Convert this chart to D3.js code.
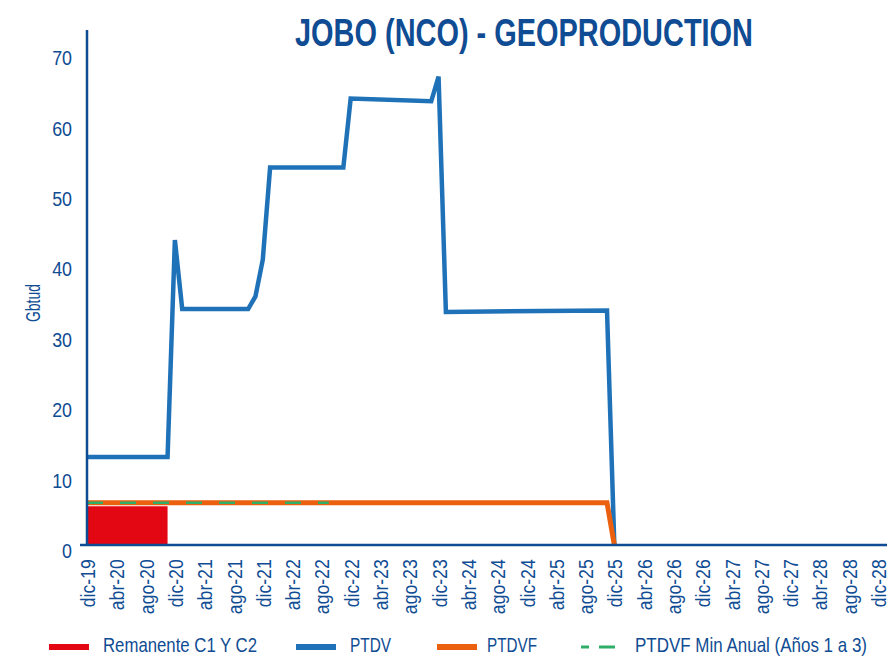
<!DOCTYPE html>
<html>
<head>
<meta charset="utf-8">
<script src="https://cdn.jsdelivr.net/npm/d3@7"></script>
<style>
  body { margin: 0; background: #fff; }
  svg { display: block; }
  text { font-family: "Liberation Sans", Arial, sans-serif; fill: #0f4c93; }
</style>
</head>
<body>
<svg id="chart" width="887" height="656"></svg>
<script>
// x tick labels, one every 4 months starting dic-19 (month index 0)
const tickLabels = ["dic-19","abr-20","ago-20","dic-20","abr-21","ago-21","dic-21","abr-22","ago-22",
  "dic-22","abr-23","ago-23","dic-23","abr-24","ago-24","dic-24","abr-25","ago-25","dic-25",
  "abr-26","ago-26","dic-26","abr-27","ago-27","dic-27","abr-28","ago-28","dic-28"]
const yTicks = [0,10,20,30,40,50,60,70]

// PTDV (month index from dic-19, Gbtud)
const ptdvMonths = [0,11,12,13,22,23,24,25,35,36,47,48,49,71,72]
const ptdvValues = [12.5,12.5,43.3,33.5,33.5,35.3,40.5,53.6,53.6,63.4,63.0,66.5,33.1,33.3,0]
// PTDVF
const ptdvfMonths = [0,71,72]
const ptdvfValues = [6.0,6.0,0]
// PTDVF min anual (años 1 a 3)
const minMonths = [0,33]
const minValues = [6.0,6.0]
// Remanente C1 y C2
const remMonths = [0,11]
const remValues = [5.5,5.5]

const svg=d3.select("#chart")
const navy="#0f4c93"

let x=d3.scaleLinear().domain([0,108]).range([87,878])
let y=d3.scaleLinear().domain([0,70]).range([545,52])

const pts=(ms,vs)=>ms.map((m,i)=>[m,vs[i]])
const line=d3.line().x(d=>x(d[0])).y(d=>y(d[1]))

// red area
svg.append("path")
    .datum(pts(remMonths,remValues))
    .attr("fill","#e30613")
    .attr("d",d3.area().x(d=>x(d[0])).y0(y(0)).y1(d=>y(d[1])))

svg.append("path")
    .datum(pts(ptdvMonths,ptdvValues))
    .attr("fill","none")
    .attr("stroke","#1f72b8")
    .attr("stroke-width",4.5)
    .attr("d",line)

svg.append("path")
    .datum(pts(ptdvfMonths,ptdvfValues))
    .attr("fill","none")
    .attr("stroke","#ea600f")
    .attr("stroke-width",5)
    .attr("d",line)

svg.append("path")
    .datum(pts(minMonths,minValues))
    .attr("fill","none")
    .attr("stroke","#2fae68")
    .attr("stroke-width",2.5)
    .attr("stroke-dasharray","16,17")
    .attr("d",line)

// y axis
const yAxis=svg.append("g")
    .attr("transform","translate(87,0)")
    .call(d3.axisLeft(y).tickValues(yTicks).tickSize(0).tickPadding(15))
yAxis.select(".domain").remove()
yAxis.selectAll("text")
    .attr("x",0)
    .attr("dy","0.6em")
    .attr("transform","translate(-15,0) scale(0.85,1)")
    .style("font-size","21px")
    .attr("fill",navy)
svg.append("line")
    .attr("x1",87).attr("x2",87)
    .attr("y1",30).attr("y2",y(0))
    .attr("stroke",navy).attr("stroke-width",2.5)

// x axis
const xAxis=svg.append("g")
    .attr("transform",`translate(0,${y(0)})`)
    .call(d3.axisBottom(x).tickValues(d3.range(0,109,4)).tickFormat((d,i)=>tickLabels[i]).tickSize(0))
xAxis.select(".domain").remove()
xAxis.selectAll("text")
    .attr("transform","rotate(-90) scale(0.84,1)")
    .attr("text-anchor","end")
    .attr("x",-17)
    .attr("y",0)
    .attr("dy","0.36em")
    .style("font-size","21px")
    .attr("fill",navy)
svg.append("line")
    .attr("x1",80).attr("x2",887)
    .attr("y1",y(0)).attr("y2",y(0))
    .attr("stroke",navy).attr("stroke-width",2.5)

// y label
svg.append("text")
    .attr("transform","translate(40,303) rotate(-90)")
    .attr("text-anchor","middle")
    .attr("textLength",38)
    .attr("lengthAdjust","spacingAndGlyphs")
    .style("font-size","20px")
    .text("Gbtud")

// title
svg.append("text")
    .attr("x",295).attr("y",46)
    .attr("textLength",458)
    .attr("lengthAdjust","spacingAndGlyphs")
    .style("font-size","39px")
    .style("font-weight","bold")
    .text("JOBO (NCO) - GEOPRODUCTION")

// legend
const legendItems=[
  {name:"Remanente C1 Y C2",color:"#e30613",dash:null,sx:49,tx:103,w:154},
  {name:"PTDV",color:"#1f72b8",dash:null,sx:296,tx:350,w:41},
  {name:"PTDVF",color:"#ea600f",dash:null,sx:437,tx:487,w:50},
  {name:"PTDVF Min Anual (Años 1 a 3)",color:"#2fae68",dash:"8,10,16,10",sx:581,tx:635,w:232}
]
const lg=svg.selectAll(".legend").data(legendItems).enter().append("g").attr("class","legend")
lg.append("line")
    .attr("x1",d=>d.sx).attr("x2",d=>d.sx+40)
    .attr("y1",647).attr("y2",647)
    .attr("stroke",d=>d.color)
    .attr("stroke-width",d=>d.dash?3:6)
    .attr("stroke-dasharray",d=>d.dash)
lg.append("text")
    .attr("x",d=>d.tx).attr("y",652)
    .attr("textLength",d=>d.w)
    .attr("lengthAdjust","spacingAndGlyphs")
    .style("font-size","21px")
    .text(d=>d.name)
</script>
</body>
</html>
